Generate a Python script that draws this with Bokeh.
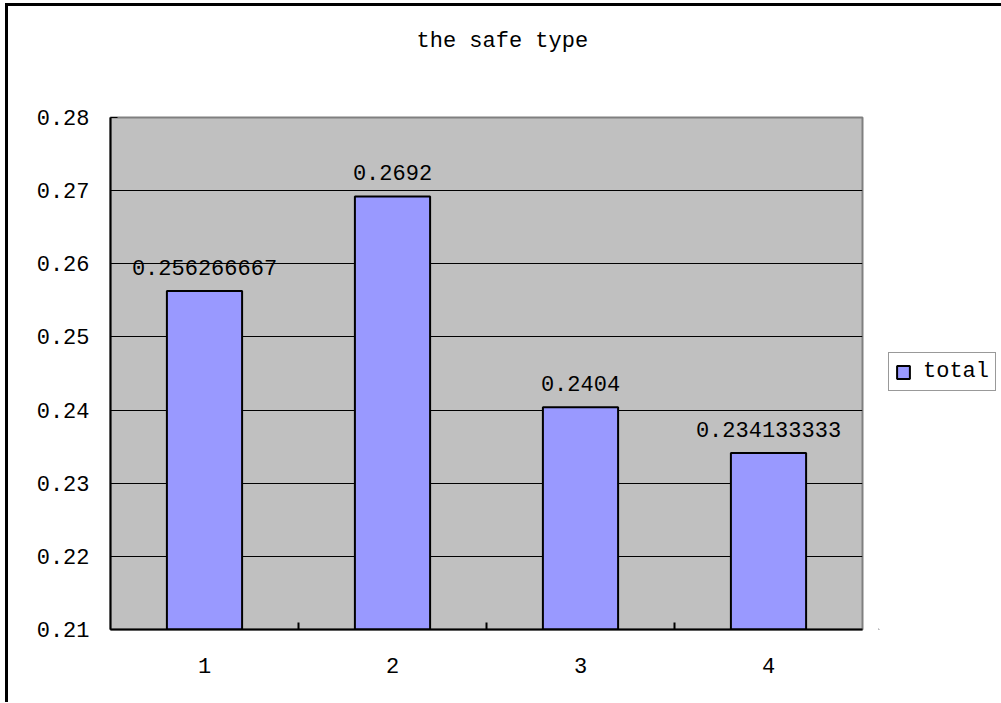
from bokeh.plotting import figure
from bokeh.layouts import row
from bokeh.models import (ColumnDataSource, FixedTicker, PrintfTickFormatter, LabelSet,
                          Legend, LegendItem, Range1d, Title)
from bokeh.core.properties import value
from bokeh.embed import file_html
from bokeh.resources import INLINE

title_text = "the safe type"
categories = ["1", "2", "3", "4"]
values = [0.256266667, 0.2692, 0.2404, 0.234133333]
series_name = "total"
y_ticks = [0.21, 0.22, 0.23, 0.24, 0.25, 0.26, 0.27, 0.28]

FONT = "Liberation Mono"
FS = "22px"
BAR_FILL = "#9999FF"

xs = list(range(1, len(categories) + 1))
src = ColumnDataSource(dict(
    x=xs,
    top=values,
    bottom=[y_ticks[0]] * len(values),
    label=[f"{v:.9g}" for v in values],
))

H = 696
p = figure(width=870, height=H, output_backend="svg", toolbar_location=None,
           title=None,
           x_range=Range1d(0.5, len(categories) + 0.5),
           y_range=Range1d(y_ticks[0], y_ticks[-1]),
           min_border_left=102, min_border_right=16,
           min_border_top=111, min_border_bottom=73)

# spacer between title and frame, then the title itself
p.add_layout(Title(text=" ", text_font_size="1px", standoff=61), "above")
p.add_layout(Title(text=title_text, align="left", text_font=FONT,
                   text_font_size=FS, text_font_style="normal",
                   text_color="black", standoff=0, offset=306), "above")

p.background_fill_color = "#C0C0C0"
p.border_fill_color = "white"
p.outline_line_color = "#808080"
p.outline_line_width = 2

bars = p.vbar(x="x", top="top", bottom="bottom", width=0.4, source=src,
              fill_color=BAR_FILL, line_color="black", line_width=2)

labels = LabelSet(x="x", y="top", text="label", source=src, text_align="center",
                  text_baseline="bottom", y_offset=16, text_font=value(FONT),
                  text_font_size=value(FS), text_color="black")
p.add_layout(labels)

# y axis
p.yaxis.ticker = FixedTicker(ticks=y_ticks, minor_ticks=[])
p.yaxis.formatter = PrintfTickFormatter(format="%.2f")
p.yaxis.major_tick_in = 7
p.yaxis.major_tick_out = 0
p.yaxis.minor_tick_line_color = None
p.yaxis.axis_line_color = "black"
p.yaxis.axis_line_width = 2
p.yaxis.major_tick_line_color = "black"
p.yaxis.major_tick_line_width = 1
p.yaxis.major_label_text_font = FONT
p.yaxis.major_label_text_font_size = FS
p.yaxis.major_label_text_color = "black"
p.yaxis.major_label_standoff = 21

# x axis: labels at centers, ticks at category boundaries
p.xaxis.ticker = FixedTicker(ticks=xs, minor_ticks=[x + 0.5 for x in xs[:-1]])
p.xaxis.major_label_overrides = {x: c for x, c in zip(xs, categories)}
p.xaxis.major_tick_in = 0
p.xaxis.major_tick_out = 0
p.xaxis.minor_tick_in = 7
p.xaxis.minor_tick_out = 0
p.xaxis.minor_tick_line_color = "black"
p.xaxis.minor_tick_line_width = 2
p.xaxis.axis_line_color = "black"
p.xaxis.axis_line_width = 2
p.xaxis.major_label_text_font = FONT
p.xaxis.major_label_text_font_size = FS
p.xaxis.major_label_text_color = "black"
p.xaxis.major_label_standoff = 28

p.xgrid.grid_line_color = None
p.ygrid.ticker = FixedTicker(ticks=y_ticks)
p.ygrid.grid_line_color = "black"
p.ygrid.grid_line_width = 1

# legend panel to the right of the plot area
p2 = figure(width=123, height=H, output_backend="svg", toolbar_location=None,
            min_border=0, x_range=Range1d(0, 1), y_range=Range1d(0, 1))
p2.axis.visible = False
p2.grid.visible = False
p2.outline_line_color = None
p2.background_fill_color = "white"
p2.border_fill_color = "white"
# one far off-range bar, only so that the legend has a glyph to draw
leg_src = ColumnDataSource(dict(x=[-50], top=[-50], bottom=[-51]))
leg_bar = p2.vbar(x="x", top="top", bottom="bottom", width=0.4, source=leg_src,
                  fill_color=BAR_FILL, line_color="black", line_width=2)
legend = Legend(items=[LegendItem(label=series_name, renderers=[leg_bar], index=0)],
                location=(10, 238), orientation="vertical",
                label_text_font=FONT, label_text_font_size=FS,
                label_text_color="black",
                glyph_width=16, glyph_height=16, label_standoff=12,
                padding=6, spacing=0, margin=0,
                border_line_color="#333333", border_line_width=1,
                background_fill_color="white", background_fill_alpha=1)
p2.add_layout(legend, "center")

layout = row(p, p2, spacing=0)
layout.styles = {"border-left": "3px solid black", "border-top": "3px solid black",
                 "margin-left": "5px", "margin-top": "3px"}

open("out.html", "w").write(file_html(layout, INLINE))
